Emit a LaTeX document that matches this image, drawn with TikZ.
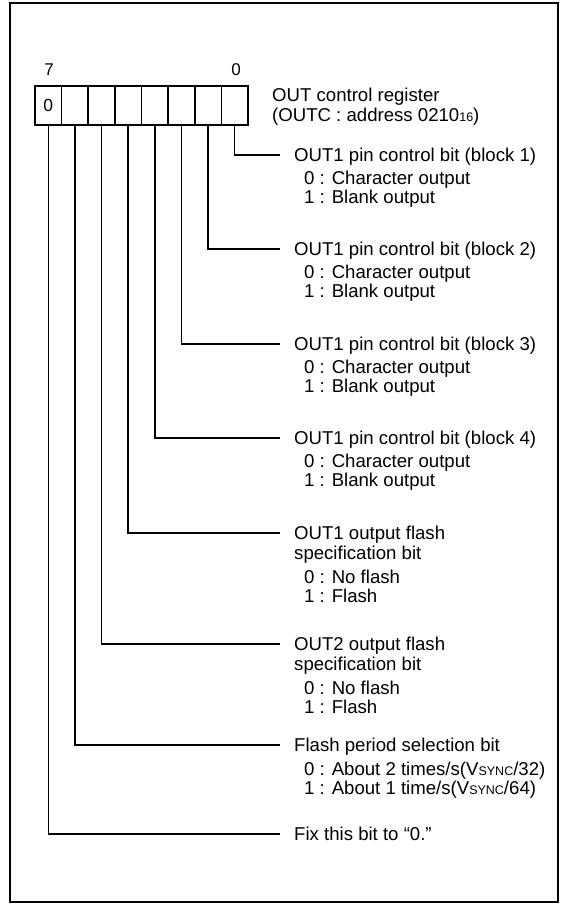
\documentclass[tikz,border=0pt]{standalone}
\usepackage{fontspec}
\setmainfont{Liberation Sans}
\newcommand{\smallsz}[1]{{\fontsize{12.5}{12.5}\selectfont #1}}
\begin{document}
\begin{tikzpicture}[x=1pt,y=-1pt,
  lbl/.style={anchor=base west, inner sep=0pt, align=left, font=\fontsize{18.6}{20}\selectfont},
  sublbl/.style={anchor=base west, inner sep=0pt, align=left, font=\fontsize{18.6}{19}\selectfont},
  cell/.style={draw, line width=1.7pt, minimum width=26.625pt, minimum height=39pt, inner sep=0pt, outer sep=0pt, font=\fontsize{17.5}{17.5}\selectfont},
  conn/.style={line width=1.6pt},
  bitnum/.style={anchor=base, inner sep=0pt, font=\fontsize{17}{17}\selectfont},
  frame/.style={line width=2.2pt}]
\useasboundingbox (0,0) rectangle (569,905);
\draw[frame] (10,3) rectangle (558,902);

% register cells
\foreach \i in {0,...,6} {
  \node[cell] (c\i) at ({35+26.625*(7.5-\i)},105.5) {};
}
\node[cell] (c7) at ({35+26.625*0.5},105.5) {0};
\draw[line width=2.6pt] (c7.north west) rectangle (c0.south east);

% bit numbers
\node[bitnum] (n7) at (49,75.5) {7};
\node[bitnum] (n0) at (236,75.5) {0};

% register title (anchor = baseline of last line)
\node[lbl] (reg) at (272,121) {OUT control register\\(OUTC : address 0210\smallsz{16})};

% connectors
\foreach \i/\y in {0/155,1/249,2/344,3/438,4/533,5/644,6/745,7/834} {
  \coordinate (e\i) at (280,\y);
  \draw[conn] (c\i.south) |- (e\i);
}

% labels (multi-line nodes are placed by the baseline of their last line)
\node[lbl] (l0) at (294,161.5) {OUT1 pin control bit (block 1)};
\node[sublbl] (s0) at (304,203.5) {0 : Character output\\1 : Blank output};

\node[lbl] (l1) at (294,255.5) {OUT1 pin control bit (block 2)};
\node[sublbl] (s1) at (304,297.5) {0 : Character output\\1 : Blank output};

\node[lbl] (l2) at (294,350.5) {OUT1 pin control bit (block 3)};
\node[sublbl] (s2) at (304,392.5) {0 : Character output\\1 : Blank output};

\node[lbl] (l3) at (294,444.5) {OUT1 pin control bit (block 4)};
\node[sublbl] (s3) at (304,486.5) {0 : Character output\\1 : Blank output};

\node[lbl] (l4) at (294,559.5) {OUT1 output flash\\specification bit};
\node[sublbl] (s4) at (304,602.5) {0 : No flash\\1 : Flash};

\node[lbl] (l5) at (294,670.5) {OUT2 output flash\\specification bit};
\node[sublbl] (s5) at (304,713.5) {0 : No flash\\1 : Flash};

\node[lbl] (l6) at (294,751.5) {Flash period selection bit};
\node[sublbl] (s6) at (304,794) {0 : About 2 times/s(V\smallsz{SYNC}/32)\\1 : About 1 time/s(V\smallsz{SYNC}/64)};

\node[lbl] (l7) at (294,840.5) {Fix this bit to “0.”};
\end{tikzpicture}
\end{document}
